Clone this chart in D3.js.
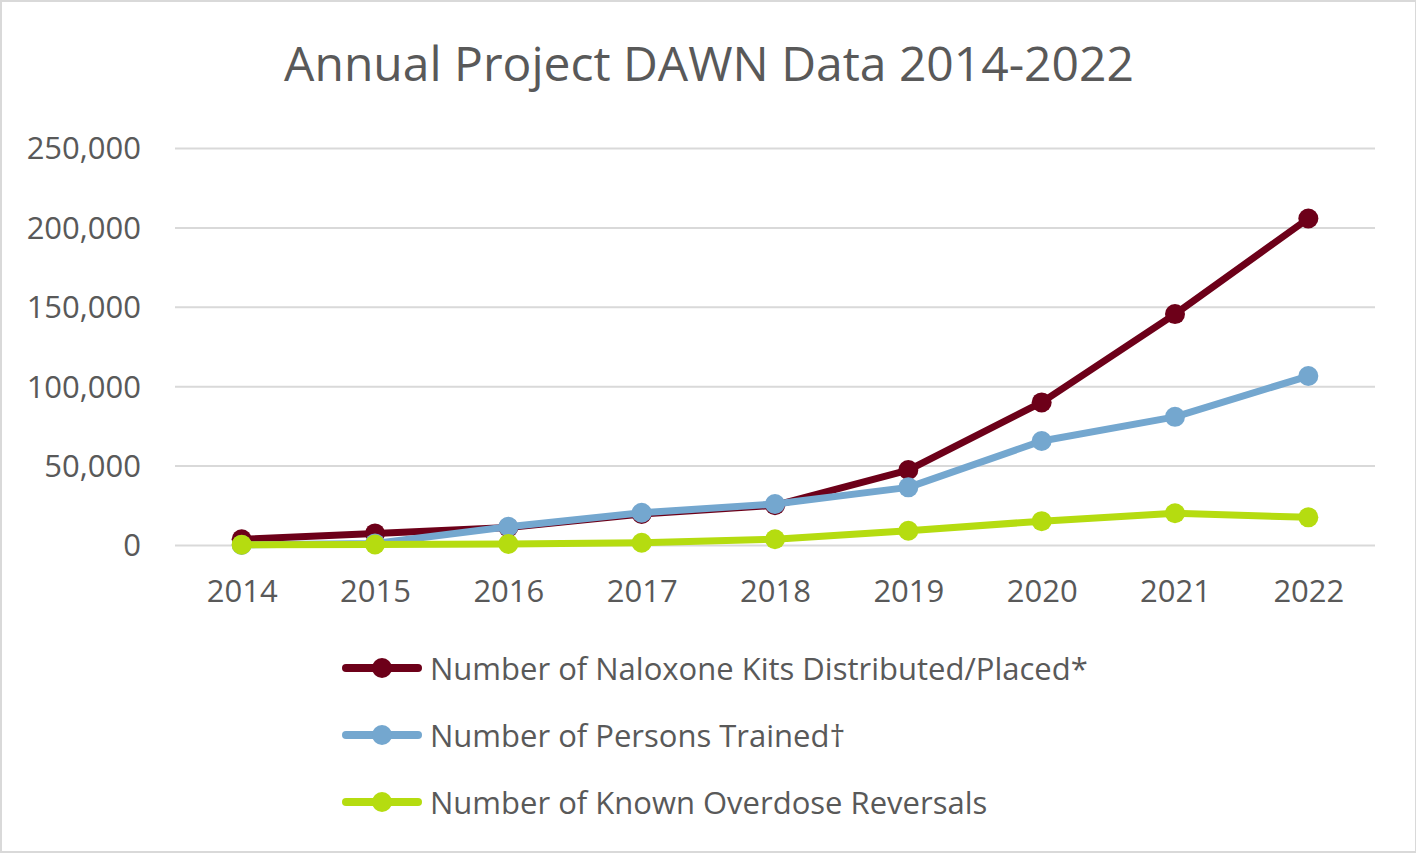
<!DOCTYPE html>
<html>
<head>
<meta charset="utf-8">
<script src="https://cdn.jsdelivr.net/npm/d3@7"></script>
<style>
  body { margin: 0; background: #fff; }
  text { font-family: "Open Sans", "Noto Sans", sans-serif; fill: #595959; }
</style>
</head>
<body>
<svg id="chart" width="1416" height="853"></svg>
<script>
const years = ['2014', '2015', '2016', '2017', '2018', '2019', '2020', '2021', '2022']
const kits = [3600, 7300, 11000, 19500, 25000, 47200, 89800, 145400, 205600]
const trained = [0, 1000, 11500, 20300, 25800, 36300, 65500, 80700, 106400]
const reversals = [200, 300, 700, 1450, 3600, 9000, 15000, 20000, 17400]
const yTicks = [0, 50000, 100000, 150000, 200000, 250000]
const seriesNames = [
  'Number of Naloxone Kits Distributed/Placed*',
  'Number of Persons Trained\u2020',
  'Number of Known Overdose Reversals'
]
const colors = ['#6d0019', '#74a7cf', '#b5dc10']

const svg = d3.select('#chart')
const width = 1416
const height = 853
const plotLeft = 175
const plotRight = 1375
const plotTop = 148
const plotBottom = 545

// frame
svg.append('rect')
  .attr('x', 1).attr('y', 1)
  .attr('width', width - 1).attr('height', height - 2)
  .attr('fill', '#fff')
  .attr('stroke', '#d9d9d9')
  .attr('stroke-width', 2)

const xScale = d3.scalePoint()
  .domain(years)
  .range([plotLeft, plotRight])
  .padding(0.5)

const yScale = d3.scaleLinear()
  .domain([0, 250000])
  .range([plotBottom, plotTop])

// gridlines + y labels
const yAxis = d3.axisLeft(yScale)
  .tickValues(yTicks)
  .tickSize(-(plotRight - plotLeft))
  .tickPadding(34)
  .tickFormat(d3.format(','))

const yG = svg.append('g')
  .attr('transform', `translate(${plotLeft},0)`)
  .call(yAxis)
yG.select('.domain').remove()
yG.selectAll('.tick line').style('stroke', '#d9d9d9').style('stroke-width', 2)
yG.selectAll('.tick text')
  .style('font-size', '31px')
  .style('fill', '#595959')
  .attr('dy', '0.35em')

// x labels
const xAxis = d3.axisBottom(xScale).tickSize(0).tickPadding(35)
const xG = svg.append('g')
  .attr('transform', `translate(0,${plotBottom})`)
  .call(xAxis)
xG.select('.domain').remove()
xG.selectAll('.tick text')
  .style('font-size', '31px')
  .style('fill', '#595959')

// title
svg.append('text')
  .attr('x', 709)
  .attr('y', 81)
  .attr('text-anchor', 'middle')
  .style('font-size', '48px')
  .text('Annual Project DAWN Data 2014-2022')

const data = [kits, trained, reversals]
const line = d3.line()
  .x((d, i) => xScale(years[i]))
  .y(d => yScale(d))

// kits first, then trained, reversals on top
data.forEach((vals, s) => {
  const g = svg.append('g')
  g.append('path')
    .datum(vals)
    .attr('d', line)
    .attr('fill', 'none')
    .attr('stroke', colors[s])
    .attr('stroke-width', 7)
    .attr('stroke-linejoin', 'round')
  g.selectAll('circle')
    .data(vals)
    .enter()
    .append('circle')
    .attr('cx', (d, i) => xScale(years[i]))
    .attr('cy', d => yScale(d))
    .attr('r', 10)
    .attr('fill', colors[s])
})

// legend
const legend = svg.append('g')
seriesNames.forEach((name, i) => {
  const y = 668 + i * 67
  legend.append('line')
    .attr('x1', 346).attr('x2', 418)
    .attr('y1', y).attr('y2', y)
    .attr('stroke', colors[i])
    .attr('stroke-width', 8)
    .attr('stroke-linecap', 'round')
  legend.append('circle')
    .attr('cx', 382).attr('cy', y)
    .attr('r', 10)
    .attr('fill', colors[i])
  legend.append('text')
    .attr('x', 430)
    .attr('y', y + 12)
    .style('font-size', '31px')
    .text(name)
})
</script>
</body>
</html>
